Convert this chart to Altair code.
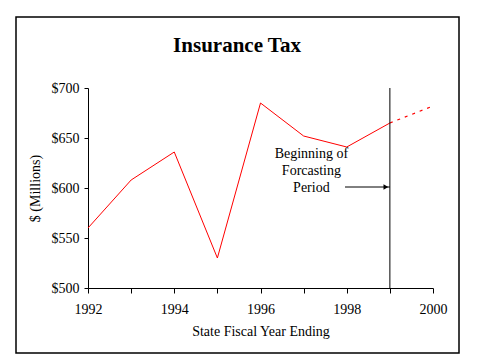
import altair as alt
import pandas as pd

# Actual collections
years = [1992, 1993, 1994, 1995, 1996, 1997, 1998, 1999]
tax = [560, 608, 636, 530, 685, 652, 641, 665]

# Forecast
forecast_years = [1999, 2000]
forecast_tax = [665, 682]

forecast_start = 1999
note_lines = ["Beginning of", "Forcasting", "Period"]
note_y = [634, 617, 600]
note_x = 1997.18
arrow_from = 1997.96
arrow_y = 601

y_ticks = [500, 550, 600, 650, 700]
x_ticks = list(range(1992, 2001))

FONT = "Liberation Serif"

actual = pd.DataFrame({"year": years, "tax": tax})
fc = pd.DataFrame({"year": forecast_years, "tax": forecast_tax})
notes = pd.DataFrame({"text": note_lines, "y": note_y, "x": [note_x] * 3})
arrow = pd.DataFrame({"x": [arrow_from], "x2": [forecast_start], "y": [arrow_y]})
vline = pd.DataFrame({"x": [forecast_start], "y": [500], "y2": [700]})

xs = alt.Scale(domain=[1992, 2000], nice=False)
ys = alt.Scale(domain=[500, 700], nice=False)

x_axis = alt.Axis(values=x_ticks, labelExpr="datum.value % 2 == 0 ? datum.value : ''",
                  title="State Fiscal Year Ending", tickSize=5, labelPadding=9,
                  labelFlush=False, titleY=43, titleBaseline="middle")
y_axis = alt.Axis(values=y_ticks, labelExpr="'$' + datum.value", title="$ (Millions)",
                  tickSize=4, labelPadding=5, labelFlush=False, titleX=-53, titleY=100,
                  titleBaseline="middle", titleAlign="center", titleAngle=-90)

line = alt.Chart(actual).mark_line(color="#FF0000", strokeWidth=1).encode(
    x=alt.X("year:Q", scale=xs, axis=x_axis),
    y=alt.Y("tax:Q", scale=ys, axis=y_axis),
)
dash = alt.Chart(fc).mark_line(color="#FF0000", strokeWidth=1.2, strokeDash=[3, 5]).encode(
    x=alt.X("year:Q", scale=xs), y=alt.Y("tax:Q", scale=ys)
)
rule = alt.Chart(vline).mark_rule(color="black", strokeWidth=1).encode(
    x=alt.X("x:Q", scale=xs), y=alt.Y("y:Q", scale=ys), y2="y2:Q"
)
arr = alt.Chart(arrow).mark_rule(color="black", strokeWidth=1).encode(
    x=alt.X("x:Q", scale=xs), x2="x2:Q", y=alt.Y("y:Q", scale=ys)
)
head = alt.Chart(arrow).mark_point(shape="triangle-right", filled=True, color="black",
                                   size=30, opacity=1, xOffset=-4).encode(
    x=alt.X("x2:Q", scale=xs), y=alt.Y("y:Q", scale=ys)
)
txt = alt.Chart(notes).mark_text(font=FONT, fontSize=14, color="black",
                                 align="center", baseline="middle").encode(
    x=alt.X("x:Q", scale=xs), y=alt.Y("y:Q", scale=ys), text="text:N"
)
title = alt.Chart(alt.Data(values=[{"t": "Insurance Tax"}])).mark_text(
    font=FONT, fontSize=21, fontWeight="bold", color="black",
    align="center", baseline="alphabetic").encode(
    x=alt.value(149), y=alt.value(-36), text="t:N"
)
border = alt.Chart(alt.Data(values=[{}])).mark_rect(
    fill="transparent", stroke="black", strokeWidth=1.5).encode(
    x=alt.value(-72), x2=alt.value(371), y=alt.value(-71), y2=alt.value(265)
)

chart = alt.layer(border, line, dash, rule, arr, head, txt, title).properties(
    width=345, height=200,
    padding={"left": 80, "top": 80, "right": 36, "bottom": 72},
    autosize=alt.AutoSizeParams(type="none"),
).configure_view(strokeWidth=0).configure_axis(
    grid=False, domainColor="black", tickColor="black", labelColor="black",
    titleColor="black", labelFont=FONT, titleFont=FONT, labelFontSize=14,
    titleFontSize=14, titleFontWeight="normal", domainWidth=1, tickWidth=1,
)

chart.save("out.html", embed_options={"renderer": "svg", "actions": False})
